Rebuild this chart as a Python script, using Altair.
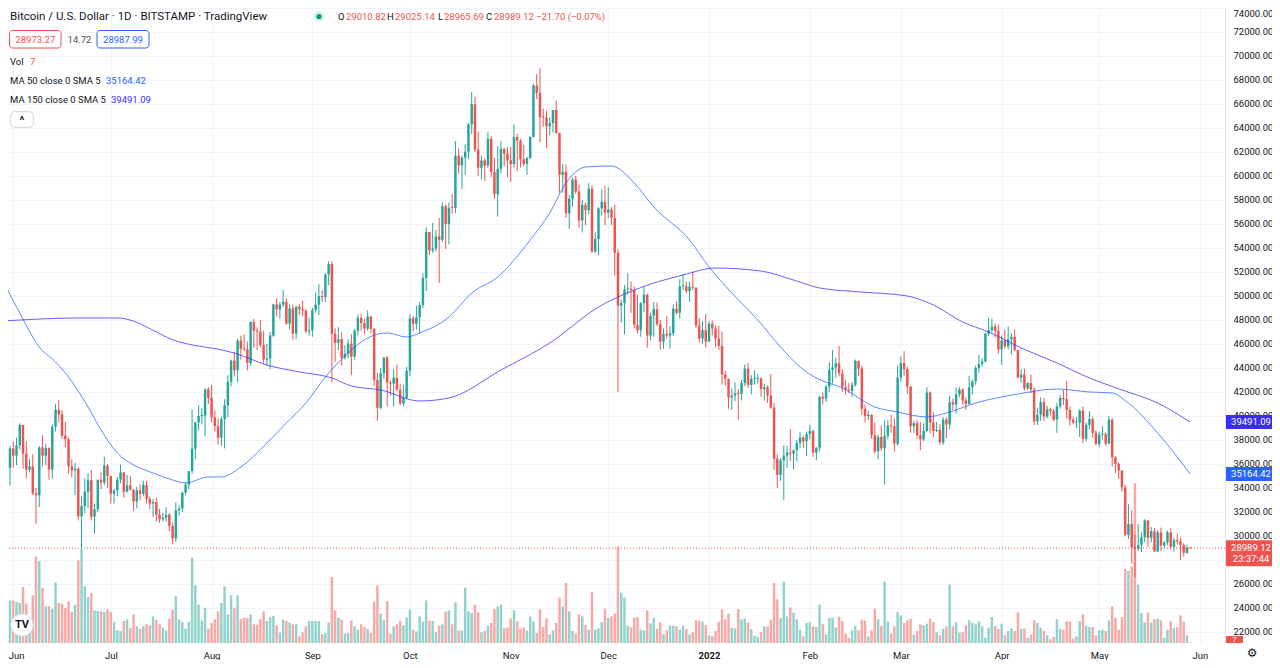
import json
import altair as alt
import pandas as pd

# ---------------- data ----------------
START = "2021-05-29"          # first daily candle
OPEN_FIRST = 35680            # open of the first candle (later opens = previous close)

CLOSE = [
    34620, 35680, 37300,
    # Jun 2021
    36690, 37570, 39250, 36850, 35520, 35800, 33560, 33400, 37380, 36690, 37330, 35550, 39100, 40520, 40140,
    38340, 38060, 35800, 35480, 35600, 31640, 32500, 33690, 34650, 31610, 32220, 34680, 34460, 35860, 35000,
    # Jul
    33520, 33800, 34700, 35300, 33700, 34220, 33870, 32880, 33800, 33510, 34260, 33100, 32700, 32820, 31780,
    31400, 31530, 31780, 30840, 29800, 32140, 32290, 33620, 34270, 35410, 37280, 39460, 40000, 40030, 42220, 41500,
    # Aug
    39880, 39160, 38190, 39730, 40890, 42850, 44620, 43810, 46290, 45580, 45560, 44420, 47830, 47100, 47030,
    45920, 44700, 44800, 46700, 49300, 48880, 49290, 49520, 47700, 48960, 46870, 49090, 48900, 48780, 47050, 47150,
    # Sep
    48830, 49280, 49990, 49920, 51790, 52670, 46860, 46100, 46400, 44860, 45180, 46030, 44950, 47110, 48170,
    47740, 47280, 48290, 47270, 43000, 40680, 43570, 44870, 42800, 42700, 43180, 42190, 41040, 41520, 43780,
    # Oct
    48140, 47680, 48230, 49250, 51500, 55330, 53800, 53950, 54960, 54680, 57480, 56000, 57360, 57330, 61690,
    60880, 61520, 62020, 64300, 65990, 62200, 60690, 61300, 60870, 63100, 60330, 58480, 60600, 62270, 61870, 61320,
    # Nov
    61000, 63250, 62930, 61400, 61000, 61500, 63270, 67540, 66930, 64900, 64870, 64150, 64400, 65500, 63600,
    60100, 60350, 56900, 58100, 59700, 58700, 56300, 57600, 57150, 58950, 53700, 54750, 57300, 57850, 56950,
    # Dec
    57200, 56500, 53600, 49200, 49400, 50550, 50600, 50500, 47600, 47150, 49400, 50100, 46700, 48350, 48900,
    47650, 46200, 46850, 46700, 46900, 48950, 48600, 50800, 50800, 50400, 50800, 50700, 47550, 46450, 47150, 46200,
    # Jan 2022
    47700, 47300, 46450, 45850, 43450, 43100, 41550, 41700, 41900, 41850, 42750, 43950, 42600, 43100, 43100,
    43150, 42250, 42400, 41700, 40700, 36450, 35100, 36300, 36700, 36950, 36850, 37150, 37750, 38200, 37900, 38500,
    # Feb
    38750, 36950, 37350, 41600, 41450, 42450, 43850, 44050, 44400, 43550, 42400, 42200, 42100, 42600, 44600,
    43950, 40600, 40000, 40100, 38400, 37050, 38250, 37300, 38350, 39200, 39150, 37700, 43200,
    # Mar
    44400, 43900, 42450, 39150, 39400, 38400, 38050, 38750, 41950, 39450, 38750, 38850, 37800, 39700, 39300,
    41150, 40950, 41800, 42200, 41300, 41000, 42400, 42900, 44000, 44350, 44550, 46850, 47150, 47450, 47100, 45550,
    # Apr
    46300, 45800, 46400, 46600, 45500, 43200, 43450, 42300, 42750, 42200, 39550, 40100, 41150, 39950, 40550,
    40400, 39700, 40800, 41500, 41400, 40500, 39700, 39450, 39450, 40450, 38100, 39250, 39750, 38600, 37650,
    # May
    38450, 38500, 37700, 39700, 36550, 36000, 35450, 34050, 30100, 31000, 29050, 28950, 29250, 29900, 31300,
    29850, 30400, 28700, 30300, 29200, 29450, 30300, 29100, 29650, 29550, 29250, 28600, 29010, 28989.12,
]
HIGH = [
    37300, 36400, 37500,
    37900, 38200, 39400, 39250, 37900, 36400, 36800, 34000, 37500, 38400, 37700, 37400, 39300, 41000, 41300,
    40500, 39500, 38200, 36400, 36100, 35750, 33300, 34800, 35250, 35500, 32700, 34700, 35300, 36600, 36000,
    35000, 33900, 34900, 35950, 35300, 35100, 35000, 33900, 34100, 34300, 34600, 34600, 33300, 33100, 33200,
    32250, 31950, 32400, 31900, 31100, 32800, 32600, 33650, 34500, 35400, 40550, 39500, 40900, 40650, 42300, 42400,
    42600, 40450, 39800, 39950, 41400, 43400, 44700, 45300, 46450, 46700, 46800, 46200, 47900, 48100, 47400,
    48000, 47100, 46000, 47000, 49350, 49800, 49500, 50500, 49800, 49300, 49300, 49200, 49300, 49600, 48900, 48200,
    49000, 50300, 51000, 50500, 51900, 52900, 52900, 47300, 47400, 47000, 45900, 46400, 46800, 47250, 48450,
    48500, 48100, 48800, 48350, 47300, 43600, 44000, 44900, 45000, 42950, 43900, 44300, 42700, 42600, 44100,
    48500, 48350, 49200, 49500, 51900, 55700, 55300, 56100, 55500, 56500, 57800, 57650, 57800, 58500, 62900,
    62300, 61700, 62650, 64450, 67000, 66600, 63700, 61700, 61450, 63700, 63300, 61500, 62500, 62900, 62300, 62400,
    62400, 64300, 63500, 63100, 62600, 61600, 63300, 67700, 68500, 69000, 65600, 65450, 64900, 65500, 66300,
    63600, 61000, 60950, 58400, 59850, 60000, 59300, 58000, 57800, 59400, 59200, 55300, 57400, 58900, 59200,
    59050, 57400, 57600, 53900, 49700, 50900, 51900, 51200, 50800, 50100, 49500, 50800, 50200, 48600, 49500,
    49450, 48000, 47300, 48300, 47500, 49300, 49550, 51400, 51800, 51200, 51200, 52050, 50700, 48150, 47900, 48500,
    47900, 47950, 47550, 47500, 47050, 43750, 43100, 42300, 42800, 42250, 43000, 44300, 44400, 43400, 43800,
    43500, 43200, 42700, 42550, 43500, 41100, 36800, 36500, 37550, 37500, 38900, 37200, 38000, 38650, 38350, 38700,
    39250, 38850, 37400, 41700, 41950, 42600, 44500, 45500, 44850, 45850, 43900, 43000, 42750, 42850, 44700,
    44600, 44200, 40950, 40450, 40150, 39450, 38450, 39200, 39650, 39650, 40100, 39800, 44200,
    44950, 45400, 44100, 42500, 39600, 39650, 39500, 39400, 42400, 42050, 40300, 39500, 39300, 39900, 39900,
    41700, 41450, 42350, 42400, 42300, 41550, 43350, 43000, 44200, 45100, 44800, 46950, 48200, 48100, 47700, 47600,
    46700, 47200, 47450, 46900, 47200, 45500, 43900, 43950, 42800, 43450, 42400, 40700, 41550, 41500, 40850,
    40700, 40600, 41100, 41750, 42200, 42950, 40800, 39950, 39900, 40600, 40800, 39450, 40400, 39950, 38800,
    38700, 39150, 38650, 40000, 39800, 36650, 36150, 35500, 34250, 32650, 32150, 30100, 31000, 30300, 31400,
    31300, 30750, 30650, 30500, 30700, 29600, 30450, 30650, 29850, 30200, 29850, 29400, 29250, 29025.14,
]
LOW = [
    33600, 33400, 34200,
    35700, 35900, 37200, 35600, 34800, 35300, 33400, 31000, 32400, 35800, 35900, 34700, 34800, 38700, 39500,
    38100, 37400, 35200, 34900, 33400, 31300, 28800, 31900, 32300, 31300, 30200, 32000, 33900, 34250, 34000,
    32700, 32700, 33300, 34400, 33200, 33600, 33800, 32100, 32300, 33000, 33300, 32700, 32250, 31600, 31200,
    31100, 31200, 31200, 30400, 29300, 29500, 31700, 32000, 33400, 33900, 35200, 36400, 38800, 39300, 38300, 41000,
    39500, 38700, 37600, 37500, 37300, 39900, 42450, 43300, 42800, 44700, 45400, 43800, 44200, 45700, 45500,
    45700, 44400, 44200, 43900, 46600, 48300, 48100, 49100, 47600, 47200, 46350, 46400, 48400, 48300, 46900, 46700,
    46600, 48600, 48400, 49500, 49500, 50900, 42800, 44500, 45500, 44200, 44700, 44800, 43400, 44700, 46700,
    47100, 46800, 47100, 46900, 42500, 39600, 40550, 43100, 40800, 41700, 40800, 42100, 40900, 40800, 41400,
    43300, 47050, 47200, 46900, 49000, 50400, 53400, 53600, 53700, 51100, 54500, 53900, 54300, 56850, 56900,
    60200, 58900, 60100, 61400, 63500, 62000, 60000, 59700, 59600, 60700, 59900, 58100, 56600, 60200, 60800, 59900,
    59500, 60700, 60400, 60700, 60800, 60100, 61400, 63200, 66400, 62800, 64100, 62300, 63400, 63600, 63500,
    58600, 58600, 56500, 55600, 57450, 58500, 55700, 55300, 55900, 56800, 53600, 53600, 53400, 56700, 55900,
    56500, 55900, 51700, 42000, 47800, 46800, 50100, 48600, 47300, 46900, 46600, 48650, 45700, 46300, 46600,
    47500, 45500, 45600, 46400, 45600, 46650, 48450, 48100, 50500, 50200, 49500, 50500, 47300, 46100, 46000, 45700,
    46200, 46700, 45700, 45500, 42600, 42500, 40600, 40500, 41250, 39700, 41300, 42500, 42350, 41800, 42600,
    42700, 41600, 41300, 41100, 40600, 35500, 34000, 34600, 33000, 35700, 36250, 35550, 36200, 37300, 37350, 36650,
    38050, 36600, 36300, 37050, 40950, 41150, 42000, 42700, 43200, 43300, 42000, 41800, 41900, 41600, 42450,
    43350, 40100, 39450, 39650, 38100, 36850, 36400, 37100, 34300, 38050, 38600, 37050, 37500,
    42850, 43350, 41850, 38600, 38600, 38100, 37150, 37900, 38650, 38550, 38250, 38650, 37600, 37600, 38150,
    38900, 40500, 40200, 41550, 40950, 40500, 40900, 41800, 42600, 43600, 44100, 44450, 46650, 46950, 46550, 45200,
    44250, 45600, 45550, 45150, 45400, 43150, 42750, 42100, 42150, 41900, 39250, 39250, 39600, 39600, 39800,
    40050, 39550, 38600, 40600, 40900, 39800, 39200, 39300, 39000, 38250, 37750, 37900, 38900, 38200, 37600,
    37400, 38050, 37500, 37650, 35800, 35250, 34750, 33700, 30000, 29750, 27700, 26550, 28750, 28650, 29500,
    29100, 29450, 28700, 28650, 28750, 28950, 29250, 28900, 28700, 29300, 28000, 28300, 28500, 28965.69,
]
# daily volume, relative bar heights
VOLUME = [
    128, 88, 128, 128, 123, 120, 168, 118, 70, 143, 260, 246, 166, 110, 110, 103, 182, 120, 118, 106,
    125, 93, 115, 248, 280, 170, 138, 150, 98, 96, 95, 93, 101, 93, 63, 38, 36, 66, 70, 45,
    86, 50, 43, 50, 56, 53, 80, 70, 56, 46, 38, 73, 100, 140, 71, 63, 43, 63, 256, 173,
    115, 68, 106, 43, 60, 71, 95, 120, 170, 86, 143, 106, 143, 72, 76, 75, 86, 56, 55, 71,
    95, 66, 78, 81, 53, 31, 70, 66, 61, 56, 56, 20,
    32, 50, 66, 66, 66, 66, 26, 30, 62, 198, 98, 76, 70, 28, 30, 68, 50, 40, 56, 48,
    42, 30, 124, 173, 88, 68, 126, 28, 50, 56, 66, 53, 76, 100, 40, 35, 80, 64, 128, 68,
    66, 33, 52, 56, 95, 98, 56, 122, 38, 38, 166, 95, 90, 115, 93, 32, 36, 52, 60, 102,
    110, 115, 44, 47, 74, 98, 65, 44, 47, 38, 80, 65, 30, 101, 48, 74, 26, 38, 60, 136,
    110, 180, 95, 36, 28, 86, 80, 54, 40, 152, 40, 44,
    63, 103, 75, 80, 88, 290, 151, 136, 52, 47, 76, 78, 40, 38, 98, 59, 76, 43, 62, 26,
    38, 52, 52, 50, 40, 52, 42, 26, 32, 68, 67, 64, 54, 23, 20, 36, 63, 101, 71, 88,
    46, 44, 102, 71, 74, 62, 42, 22, 18, 33, 50, 50, 70, 180, 131, 74, 184, 80, 107, 91,
    71, 40, 20, 60, 62, 50, 48, 115, 57, 26, 76, 76, 47, 79, 66, 28, 15, 38, 52, 38,
    70, 67, 20, 38, 103, 71, 52, 184, 65, 28, 50, 93,
    83, 60, 68, 73, 25, 36, 56, 53, 58, 73, 63, 32, 23, 42, 50, 175, 50, 62, 31, 32,
    53, 68, 61, 56, 65, 50, 16, 46, 78, 51, 42, 58, 23, 36, 44, 36, 92, 43, 43, 16,
    25, 68, 60, 46, 36, 23, 11, 18, 71, 42, 40, 65, 65, 13, 20, 66, 86, 52, 48, 48,
    23, 38, 40, 36, 68, 110, 76, 40, 78, 222, 216, 230, 480, 175, 90, 62, 91, 61, 71, 73,
    68, 16, 40, 65, 45, 47, 83, 64, 23, 2,
]
# moving averages (day index from START, value)
MA50_DAY = [0, 5, 11, 16, 20, 26, 30, 35, 40, 46, 52, 56, 63, 67, 73, 81, 87, 93, 99, 106,
            112, 118, 124, 128, 137, 144, 152, 162, 168, 173, 179, 187, 194, 200, 211, 217, 224, 232, 239, 245,
            250, 258, 268, 275, 284, 290, 299, 312, 324, 334, 341, 346, 355, 365]
MA50_VAL = [51170, 48580, 45750, 44500, 43250, 40750, 38830, 36920, 35920, 35250, 34670, 34420, 34920, 34920,
            35750, 37750, 39420, 41080, 43250, 45250, 46500, 46920, 46580, 46920, 48250, 50250, 51580, 54670,
            56920, 59420, 60750, 60830, 59420, 57420, 54670, 52420, 50250, 48000, 45750, 44080, 43170, 42330,
            40750, 40330, 39920, 40250, 41080, 41830, 42250, 42000, 41920, 41080, 38580, 35164.42]
MA150_DAY = [0, 11, 22, 35, 54, 71, 81, 91, 101, 107, 116, 128, 137, 153, 168, 183, 194, 209, 219, 233,
             243, 251, 264, 278, 286, 295, 303, 313, 324, 334, 344, 355, 365]
MA150_VAL = [47920, 48080, 48170, 48170, 46170, 45250, 44250, 43670, 43170, 42500, 42170, 41250, 41500, 43830,
             46080, 49080, 50500, 51750, 52330, 52080, 51330, 50670, 50330, 50000, 49250, 47830, 47000, 45670,
             44420, 43170, 42170, 41080, 39491.09]

MONTH_LABELS = ["Jun", "Jul", "Aug", "Sep", "Oct", "Nov", "Dec", "2022", "Feb", "Mar", "Apr", "May", "Jun"]
MONTH_STARTS = ["2021-06-01", "2021-07-01", "2021-08-01", "2021-09-01", "2021-10-01", "2021-11-01",
                "2021-12-01", "2022-01-01", "2022-02-01", "2022-03-01", "2022-04-01", "2022-05-01", "2022-06-01"]
PRICE_TICKS = list(range(22000, 74001, 2000))

TITLE = "Bitcoin / U.S. Dollar \u00b7 1D \u00b7 BITSTAMP \u00b7 TradingView"
LAST_OHLC = {"O": "29010.82", "H": "29025.14", "L": "28965.69", "C": "28989.12"}
CHANGE = "\u221221.70 (\u22120.07%)"
BID, SPREAD, ASK = "28973.27", "14.72", "28987.99"
VOL_LAST = "7"
COUNTDOWN = "23:37:44"

# ---------------- layout / style ----------------
W, H = 1217, 635
X_DOMAIN = [1.38, 375.7]
Y_DOMAIN = [21083, 74000]
VOL_DOMAIN = [0, 3 * H]
PX = (Y_DOMAIN[1] - Y_DOMAIN[0]) / H

UP, DOWN = "#26a69a", "#ef5350"
UP_V, DOWN_V = "#92d2cc", "#f7a9a7"
MA50_C, MA150_C = "#2962ff", "#3b2cf4"
TEXT = "#131722"
FONT = "Roboto"

n = len(CLOSE)
df = pd.DataFrame({
    "i": list(range(n)),
    "open": [OPEN_FIRST] + CLOSE[:-1],
    "high": HIGH, "low": LOW, "close": CLOSE, "vol": VOLUME,
})
month_idx = [(pd.Timestamp(d) - pd.Timestamp(START)).days for d in MONTH_STARTS]
label_expr = f"{json.dumps(MONTH_LABELS)}[indexof({json.dumps(month_idx)}, datum.value)]"
year_idx = month_idx[MONTH_LABELS.index("2022")]

XS = alt.Scale(domain=X_DOMAIN, nice=False, zero=False)
YS = alt.Scale(domain=Y_DOMAIN, nice=False, zero=False)
X_AX = alt.Axis(values=month_idx, labelExpr=label_expr, title=None, grid=True, gridColor="#f0f3fa",
                ticks=False, domain=False, labelPadding=12, labelBaseline="middle", labelFont=FONT,
                labelFontSize=9.5, labelColor=TEXT, labelOverlap=False, labelFlush=6, labelFlushOffset=5,
                labelFontWeight={"condition": {"test": f"datum.value == {year_idx}", "value": "bold"},
                                 "value": "normal"})
Y_AX = alt.Axis(values=PRICE_TICKS, format=".2f", orient="right", title=None, grid=True, gridColor="#f0f3fa",
                ticks=False, domain=True, domainColor="#e0e3eb", labelPadding=8, labelAlign="left",
                labelFont=FONT, labelFontSize=9.5, labelColor=TEXT,
                labelOverlap=False, labelFlush=1)

base = alt.Chart(df).transform_calculate(
    x0="datum.i - 0.38", x1="datum.i + 0.38",
    col=f"datum.close >= datum.open ? '{UP}' : '{DOWN}'",
    vcol=f"datum.close >= datum.open ? '{UP_V}' : '{DOWN_V}'",
    zero="0",
    btop=f"max(datum.open, datum.close, min(datum.open, datum.close) + {PX:.2f})",
    bbot="min(datum.open, datum.close)",
)

volume = base.mark_rect(clip=True).encode(
    x=alt.X("x0:Q", scale=XS, axis=X_AX), x2="x1:Q",
    y=alt.Y("vol:Q", scale=alt.Scale(domain=VOL_DOMAIN, nice=False, zero=False), axis=None), y2="zero:Q",
    color=alt.Color("vcol:N", scale=None),
)

price_line = alt.Chart(pd.DataFrame({"p": [CLOSE[-1]]})).mark_rule(
    color=DOWN, strokeDash=[1, 2], strokeWidth=1).encode(y=alt.Y("p:Q", scale=YS, axis=None))

wick = base.mark_rule(strokeWidth=1, clip=True).encode(
    x=alt.X("i:Q", scale=XS, axis=X_AX),
    y=alt.Y("low:Q", scale=YS, axis=Y_AX), y2="high:Q",
    color=alt.Color("col:N", scale=None),
)
body = base.mark_rect(clip=True).encode(
    x=alt.X("x0:Q", scale=XS, axis=X_AX), x2="x1:Q",
    y=alt.Y("btop:Q", scale=YS, axis=None), y2="bbot:Q",
    color=alt.Color("col:N", scale=None),
)


def ma_line(days, vals, color):
    return alt.Chart(pd.DataFrame({"i": days, "v": vals})).mark_line(
        color=color, strokeWidth=1, opacity=0.75, interpolate="monotone", clip=True
    ).encode(x=alt.X("i:Q", scale=XS, axis=X_AX), y=alt.Y("v:Q", scale=YS, axis=None))


ma50 = ma_line(MA50_DAY, MA50_VAL, MA50_C)
ma150 = ma_line(MA150_DAY, MA150_VAL, MA150_C)

# price tags on the right scale
tag_df = pd.DataFrame({"p": [MA150_VAL[-1], MA50_VAL[-1]],
                       "t": [f"{MA150_VAL[-1]:.2f}", f"{MA50_VAL[-1]:.2f}"],
                       "c": [MA150_C, MA50_C]})
tag_rect = alt.Chart(tag_df).transform_calculate(
    top=f"datum.p + {7 * PX:.2f}", bot=f"datum.p - {7 * PX:.2f}"
).mark_rect().encode(
    x=alt.value(W + 1), x2=alt.value(W + 52),
    y=alt.Y("top:Q", scale=YS, axis=None), y2="bot:Q", color=alt.Color("c:N", scale=None))
tag_text = alt.Chart(tag_df).mark_text(color="white", font=FONT, fontSize=9.5, align="center",
                                        baseline="middle").encode(
    x=alt.value(W + 26), y=alt.Y("p:Q", scale=YS, axis=None), text="t:N")

last_df = pd.DataFrame({"p": [CLOSE[-1]], "t": [f"{CLOSE[-1]:.2f}"], "cd": [COUNTDOWN]})
last_rect = alt.Chart(last_df).transform_calculate(
    top=f"datum.p + {8 * PX:.2f}", bot=f"datum.p - {18 * PX:.2f}"
).mark_rect(color=DOWN).encode(
    x=alt.value(W + 1), x2=alt.value(W + 52),
    y=alt.Y("top:Q", scale=YS, axis=None), y2="bot:Q")
last_text = alt.Chart(last_df).mark_text(color="white", font=FONT, fontSize=9.5, align="center",
                                          baseline="middle").encode(
    x=alt.value(W + 26), y=alt.Y("p:Q", scale=YS, axis=None), text="t:N")
last_cd = alt.Chart(last_df).transform_calculate(p2=f"datum.p - {11 * PX:.2f}").mark_text(
    color="white", font=FONT, fontSize=9.5, align="center", baseline="middle").encode(
    x=alt.value(W + 26), y=alt.Y("p2:Q", scale=YS, axis=None), text="cd:N")

one = pd.DataFrame({"k": [0]})


def txt(s, x, y, color=TEXT, size=9.5, align="left", weight="normal", font=FONT):
    return alt.Chart(pd.DataFrame({"s": [s]})).mark_text(
        align=align, baseline="middle", font=font, fontSize=size, fontWeight=weight, color=color
    ).encode(x=alt.value(x), y=alt.value(y), text="s:N")


def box(x, x2, y, y2, fill, stroke=None, radius=0):
    kw = dict(fill=fill, cornerRadius=radius)
    if stroke:
        kw.update(stroke=stroke, strokeWidth=1)
    return alt.Chart(one).mark_rect(**kw).encode(
        x=alt.value(x), x2=alt.value(x2), y=alt.value(y), y2=alt.value(y2))


def dot(x, y, size, fill, stroke=None):
    kw = dict(filled=True, fill=fill, size=size, shape="circle", opacity=1)
    if stroke:
        kw.update(stroke=stroke, strokeWidth=1)
    return alt.Chart(one).mark_point(**kw).encode(x=alt.value(x), y=alt.value(y))


vol_tag = box(W + 1, W + 18, H - 7, H, DOWN)
vol_tag_t = txt(VOL_LAST, W + 9.5, H - 3, color="white", size=8, align="center")

legend = [
    txt(TITLE, 2, 8.5, size=11.5),
    dot(311, 8.5, 120, "#d4efeb"), dot(311, 8.5, 26, "#089981"),
    txt("O", 330, 8.5), txt(LAST_OHLC["O"], 338, 8.5, color=DOWN),
    txt("H", 379, 8.5), txt(LAST_OHLC["H"], 387, 8.5, color=DOWN),
    txt("L", 430, 8.5), txt(LAST_OHLC["L"], 436, 8.5, color=DOWN),
    txt("C", 478, 8.5), txt(LAST_OHLC["C"], 486, 8.5, color=DOWN),
    txt(CHANGE, 528, 8.5, color=DOWN),
    box(1.5, 53, 22.5, 40, "white", stroke=DOWN, radius=3), txt(BID, 27.3, 31.5, color=DOWN, align="center"),
    txt(SPREAD, 71.5, 31.5, color="#4a4e59", align="center"),
    box(89, 141, 22.5, 40, "white", stroke=MA50_C, radius=3), txt(ASK, 115, 31.5, color=MA50_C, align="center"),
    txt("Vol", 2, 54), txt(VOL_LAST, 22, 54, color=DOWN),
    txt("MA 50 close 0 SMA 5", 2, 73), txt(f"{MA50_VAL[-1]:.2f}", 98, 73, color=MA50_C),
    txt("MA 150 close 0 SMA 5", 2, 92), txt(f"{MA150_VAL[-1]:.2f}", 103, 92, color=MA150_C),
    box(2.7, 25.3, 103.7, 119.3, "white", stroke="#d1d4dc", radius=4),
    txt("^", 14, 113, size=11, align="center", weight="bold"),
    dot(14, 617, 490, "white", stroke="#e0e3eb"),
    txt("TV", 14, 617, size=11, align="center", weight="bold", color="#131722"),
    txt("\u2699", 1244, 645, size=12, align="center", color="#131722", font="DejaVu Sans"),
]

chart = alt.layer(
    volume, price_line, wick, body, ma50, ma150,
    tag_rect, tag_text, last_rect, last_text, last_cd, vol_tag, vol_tag_t,
    *legend,
).resolve_scale(y="independent").properties(
    width=W, height=H,
    autosize=alt.AutoSizeParams(type="none"),
    padding={"left": 0, "top": 0, "right": 47, "bottom": 17},
    background="white",
).configure_view(strokeWidth=0)

chart.save("out.html", embed_options={"renderer": "svg", "actions": False})
